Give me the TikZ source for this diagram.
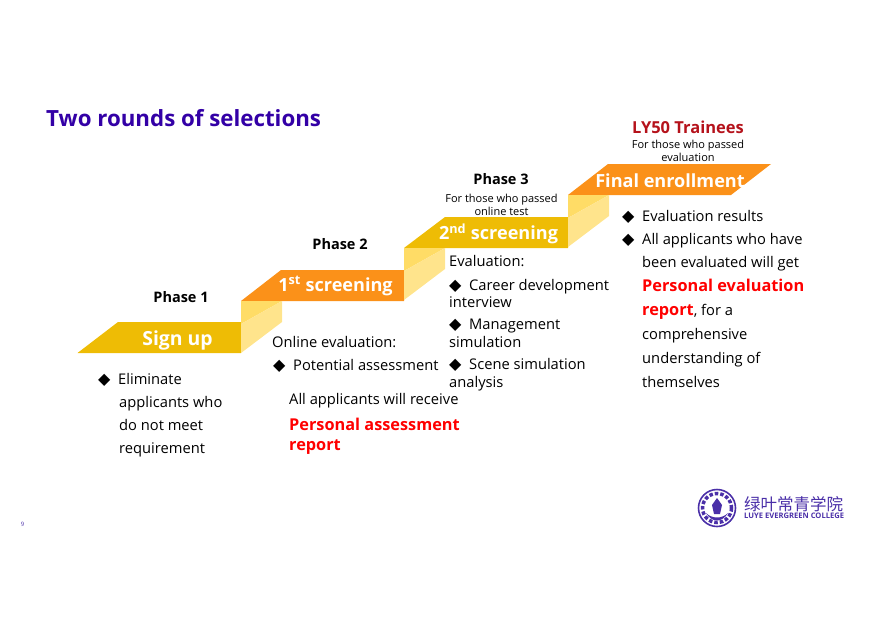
\documentclass[tikz,border=0pt]{standalone}
\usepackage{fontspec}
\setmainfont{Open Sans}
\newfontfamily\symfont{DejaVu Sans}
\newfontfamily\cjk{Noto Sans CJK SC}
\definecolor{stepyellow}{HTML}{EEBC05}
\definecolor{steporange}{HTML}{FB9119}
\definecolor{folddark}{HTML}{FFDC66}
\definecolor{foldlight}{HTML}{FFE48C}
\definecolor{titleblue}{HTML}{3300A6}
\definecolor{logoblue}{HTML}{4A2FA8}
\definecolor{traineered}{HTML}{B5121B}
\newcommand{\bul}{{\symfont\fontsize{16}{16}\selectfont ◆}}
\tikzset{
  line/.style={anchor=west,inner sep=0pt,font=\fontsize{14.7}{16}\selectfont,text height=14pt,text depth=3pt},
  redline/.style={line,text=red,font=\fontsize{16.3}{18}\selectfont\bfseries},
  steptext/.style={text=white,inner sep=0pt,font=\fontsize{18.1}{20}\selectfont\bfseries},
  phase/.style={inner sep=0pt,font=\fontsize{14.5}{16}\selectfont\bfseries},
  note/.style={inner sep=0pt,align=center,font=\fontsize{11}{13}\selectfont},
}
\begin{document}
\begin{tikzpicture}[x=1pt,y=-1pt]
\useasboundingbox (0,0) rectangle (872,616);

% Title
\node[anchor=west,inner sep=0pt,text=titleblue,font=\fontsize{22.3}{24}\selectfont\bfseries] (title) at (46,118) {Two rounds of selections};

% Stairs
\fill[stepyellow] (77.5,353) -- (118,322) -- (241,322) -- (241,353) -- cycle;
\fill[steporange] (241,301) -- (281,270) -- (404,270) -- (404,301) -- cycle;
\fill[stepyellow] (404,248) -- (445,217) -- (568,217) -- (568,248) -- cycle;
\fill[steporange] (568,195) -- (608,164) -- (771,164) -- (731,195) -- cycle;

% Folds between the steps
\foreach \fx/\fy in {241/301,404/248,568/195}{
  \fill[folddark] (\fx,\fy) -- (\fx+41,\fy) -- (\fx,\fy+23) -- cycle;
  \fill[foldlight] (\fx,\fy+23) -- (\fx+41,\fy) -- (\fx+41,\fy+21) -- (\fx,\fy+52) -- cycle;
}

% Step labels
\node[steptext,font=\fontsize{19.4}{20}\selectfont\bfseries] (signup) at (177.5,340.5) {Sign up};
\node[steptext] (first) at (335.5,286) {1\textsuperscript{st} screening};
\node[steptext] (second) at (498.5,233.5) {2\textsuperscript{nd} screening};
\node[steptext] (final) at (670,181) {Final enrollment};

% Headings
\node[phase] (phaseone) at (181,297) {Phase 1};
\node[phase] (phasetwo) at (340,244) {Phase 2};
\node[phase] (phasethree) at (501,179) {Phase 3};
\node[note] (notethree) at (501.5,205) {For those who passed\\online test};
\node[phase,text=traineered,font=\fontsize{16.5}{18}\selectfont\bfseries] (trainees) at (688,127.5) {LY50 Trainees};
\node[note] (notefour) at (688,150.5) {For those who passed\\evaluation};

% Sign up
\node[line] (a1) at (98,379) {\bul};
\node[line] (a2) at (118,379) {Eliminate};
\node[line] (a3) at (119,402) {applicants who};
\node[line] (a4) at (119,425) {do not meet};
\node[line] (a5) at (119,448) {requirement};

% First screening
\node[line] (b1) at (272,342) {Online evaluation:};
\node[line] (b2) at (273,365) {\bul};
\node[line] (b3) at (293,365) {Potential assessment};
\node[line] (b4) at (289,399) {All applicants will receive};
\node[redline] (b5) at (289,424.5) {Personal assessment};
\node[redline] (b6) at (289,444.5) {report};

% Second screening
\node[line] (c1) at (449,261) {Evaluation:};
\node[line] (c2) at (449,285) {\bul};
\node[line] (c3) at (469,285) {Career development};
\node[line] (c4) at (449,302) {interview};
\node[line] (c5) at (449,324) {\bul};
\node[line] (c6) at (469,324) {Management};
\node[line] (c7) at (449,342) {simulation};
\node[line] (c8) at (449,364) {\bul};
\node[line] (c9) at (469,364) {Scene simulation};
\node[line] (c10) at (449,382) {analysis};

% Final enrollment
\node[line] (d1) at (622,216) {\bul};
\node[line] (d2) at (642,216) {Evaluation results};
\node[line] (d3) at (622,239) {\bul};
\node[line] (d4) at (642,239) {All applicants who have};
\node[line] (d5) at (642,262) {been evaluated will get};
\node[redline] (d6) at (642,286) {Personal evaluation};
\node[line] (d7) at (642,310) {\textcolor{red}{\bfseries\fontsize{16.3}{18}\selectfont report}, for a};
\node[line] (d8) at (642,334) {comprehensive};
\node[line] (d9) at (642,358) {understanding of};
\node[line] (d10) at (642,382) {themselves};

% Page number
\node[inner sep=0pt,text=logoblue,font=\fontsize{6}{7}\selectfont] (page) at (22.5,524) {9};

% Logo
\draw[logoblue,line width=1.6pt,fill=white] (717,508) circle (18.5);
\draw[logoblue,line width=3.5pt,dotted] (717,508) circle (14.5);
\fill[logoblue] (717,498) -- (722,505) -- (720,514) -- (714,514) -- (712,505) -- cycle;
\fill[logoblue] (706,513) .. controls (712,519) and (722,519) .. (728,513) .. controls (722,523) and (712,523) .. (706,513) -- cycle;
\node[anchor=west,inner sep=0pt,text=logoblue,font=\cjk\fontsize{16.5}{18}\selectfont] (logocn) at (744,504) {绿叶常青学院};
\node[anchor=west,inner sep=0pt,text=logoblue,font=\fontsize{7.6}{10}\selectfont\bfseries] (logoen) at (744,516) {LUYE EVERGREEN COLLEGE};

\end{tikzpicture}
\end{document}
